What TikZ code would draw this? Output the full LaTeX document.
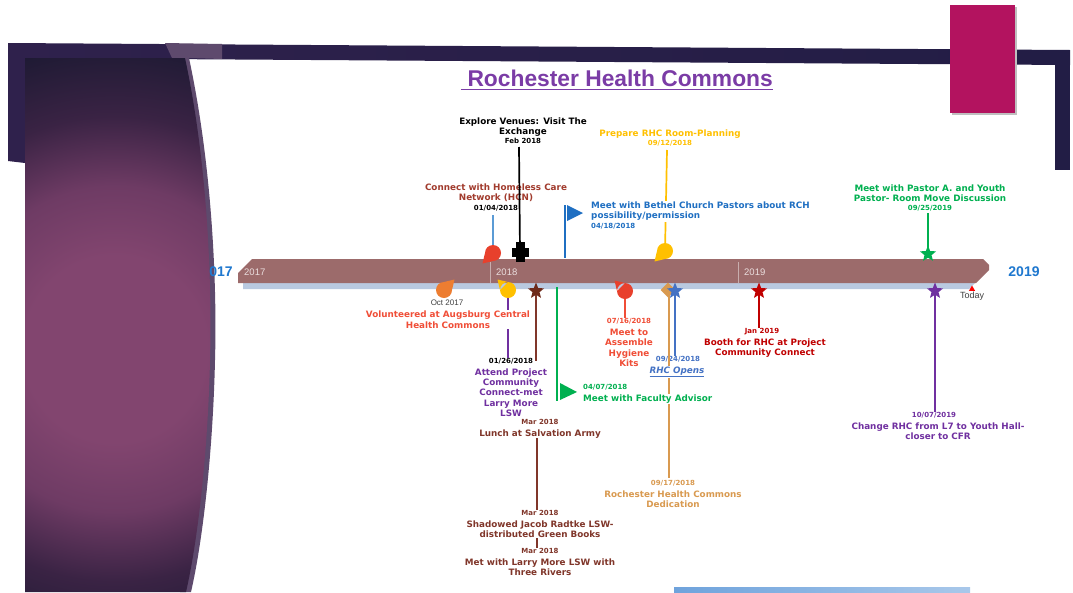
\documentclass[tikz,border=0pt]{standalone}
\usepackage{fontspec}
\setmainfont{DejaVu Sans}
\newfontfamily\arialf{Liberation Sans}
\usetikzlibrary{shapes.geometric,positioning}
\definecolor{SlideDark}{HTML}{221D45}
\definecolor{SlidePlum}{HTML}{2F214C}
\definecolor{PlumGlow}{HTML}{82456F}
\definecolor{PlumSoft}{HTML}{6E3B64}
\definecolor{PlumMid}{HTML}{3A2344}
\definecolor{PlumEdge}{HTML}{1B1932}
\definecolor{PlumSheen}{HTML}{5E4A6D}
\definecolor{Magenta}{HTML}{B3135F}
\definecolor{TitlePurple}{HTML}{7B3CA6}
\definecolor{BarBrown}{HTML}{9C6B6B}
\definecolor{BarShadow}{HTML}{B9C9E0}
\definecolor{YearText}{HTML}{EADDDD}
\definecolor{YearBlue}{HTML}{1F78CF}
\definecolor{HcnRed}{HTML}{A13B2D}
\definecolor{HcnBlue}{HTML}{5B9BD5}
\definecolor{LeafRed}{HTML}{E8402C}
\definecolor{BethelBlue}{HTML}{1F6FC2}
\definecolor{PrepGold}{HTML}{FFC000}
\definecolor{PastorGreen}{HTML}{00B050}
\definecolor{OctOrange}{HTML}{ED7D31}
\definecolor{VolRed}{HTML}{F04E37}
\definecolor{AttendPurple}{HTML}{7030A0}
\definecolor{LunchBrown}{HTML}{80362A}
\definecolor{StarBrown}{HTML}{6E2A1A}
\definecolor{DedTan}{HTML}{D99A50}
\definecolor{OpenBlue}{HTML}{4472C4}
\definecolor{BoothRed}{HTML}{C00000}
\definecolor{TodayGray}{HTML}{404040}
\definecolor{FootBlue}{HTML}{6FA3DC}
\pgfdeclareradialshading{plumglow}{\pgfpoint{0bp}{0bp}}{color(0bp)=(PlumGlow); color(8bp)=(PlumGlow); color(14bp)=(PlumSoft); color(20bp)=(PlumMid); color(27bp)=(PlumEdge); color(50bp)=(PlumEdge)}
\newcommand{\lblfont}{\fontsize{8.8}{10.4}\selectfont\bfseries}
\newcommand{\datefont}{\fontsize{7}{8}\selectfont\bfseries}

\begin{document}
\begin{tikzpicture}[x=1pt,y=-1pt,
  lbl/.style={font=\lblfont,align=center,inner sep=0pt},
  dt/.style={font=\datefont,inner sep=0pt},
  stem/.style={line width=1.7pt},
  mstar/.style={star,star points=5,star point ratio=2.3,minimum size=17pt,inner sep=0pt},
  yr/.style={font=\arialf\fontsize{9.5}{11}\selectfont,text=YearText,inner sep=0pt},
  bigyr/.style={font=\arialf\fontsize{14}{16}\selectfont\bfseries,text=YearBlue,inner sep=0pt}]
\useasboundingbox (0,0) rectangle (1073,592);
\fill[white] (0,0) rectangle (1073,592);
\shade[left color=SlidePlum,right color=SlideDark] (8,43) -- (1070,50) -- (1070,65) -- (8,58) -- cycle;
\fill[SlideDark] (1055,50) rectangle (1070,170);
\fill[SlidePlum] (8,43) -- (25,43) -- (25,163) -- (8,161) -- cycle;
\fill[PlumSheen] (165,43) -- (222,44) -- (222,59) -- (189,58) .. controls (213,170) and (217,290) .. (215,360) .. controls (213,450) and (203,540) .. (191,592) -- (180,592) -- (172,58) -- cycle;
\begin{scope}
\clip (25,58) -- (185,58) .. controls (208,165) and (212,285) .. (210,360) .. controls (208,450) and (198,540) .. (186,592) -- (25,592) -- cycle;
\shade[shading=plumglow] (-170,58) rectangle (400,640);
\end{scope}
\fill[black!25] (952,7) rectangle (1017,115);
\fill[Magenta] (950,5) rectangle (1015,113);
\shade[left color=FootBlue,right color=FootBlue!60] (674,587) rectangle (970,592);

\node[font=\arialf\fontsize{22.8}{26}\selectfont\bfseries,text=TitlePurple,inner sep=0pt,anchor=base] (title) at (617,86) {\ Rochester Health Commons};
\draw[TitlePurple,line width=1.6pt] ([yshift=-3.5pt]title.base west) -- ([yshift=-3.5pt]title.base east);

\fill[BarShadow] (243,283) -- (975,283) -- (969,289) -- (243,289) -- cycle;
\fill[BarBrown] (252,259) -- (983,259) -- (989,265) -- (989,270) -- (976,283) -- (238,283) -- (238,273) -- cycle;
\draw[BarBrown!55!white,line width=0.8pt] (490,262) -- (490,283) (738,262) -- (738,283);
\node[yr,anchor=west] (y17) at (244,272) {2017};
\node[yr,anchor=west] (y18) at (496,272) {2018};
\node[yr,anchor=west] (y19) at (744,272) {2019};
\node[bigyr] (lft) at (221,272) {017};
\node[bigyr] (rgt) at (1024,272) {2019};

\coordinate (mExplore) at (520,252);
\coordinate (mHcn) at (493,253);
\coordinate (mBethel) at (565,205);
\coordinate (mPrep) at (665,251);
\coordinate (mPastor) at (928,254);
\coordinate (mOct) at (444,290);
\coordinate (mAttend) at (508,290);
\coordinate (mLunch) at (536,291);
\coordinate (mFaculty) at (557,401);
\coordinate (mHyg) at (625,291);
\coordinate (mDed) at (668,290);
\coordinate (mOpen) at (675,291);
\coordinate (mBooth) at (759,291);
\coordinate (mChange) at (935,291);

\node[lbl,anchor=north] (tExplore) at (523,117.6) {Explore Venues: Visit The\\Exchange};
\node[dt,anchor=north] (dExplore) at (523,138.3) {Feb 2018};
\node[lbl,anchor=north,text=HcnRed] (tHcn) at (496,183.6) {Connect with Homeless Care\\Network (HCN)};
\node[dt,anchor=north] (dHcn) at (496,205.3) {01/04/2018};
\node[lbl,anchor=north,text=PrepGold] (tPrep) at (670,129.3) {Prepare RHC Room-Planning};
\node[dt,anchor=north,text=PrepGold] (dPrep) at (670,140) {09/12/2018};
\node[lbl,anchor=north,text=PastorGreen] (tPastor) at (930,184.3) {Meet with Pastor A. and Youth\\Pastor- Room Move Discussion};
\node[dt,anchor=north,text=PastorGreen] (dPastor) at (930,205) {09/25/2019};

\coordinate (sExplore) at (519,147);
\coordinate (sHcn) at (493,215);
\coordinate (sBethel) at (565,258);
\coordinate (sPrep) at (667,150);
\coordinate (sPastor) at (928,213);
\draw[stem] (sExplore) -- (mExplore);
\draw[stem,HcnBlue,line width=1.3pt] (sHcn) -- (mHcn);
\draw[stem,BethelBlue] (mBethel) -- (sBethel);
\draw[stem,PrepGold] (sPrep) -- (mPrep);
\draw[stem,PastorGreen] (sPastor) -- (mPastor);
\fill[BethelBlue] (mBethel) ++(2,0) -- ++(16,8) -- ++(-16,8) -- cycle;

\node[lbl,anchor=north west,align=left,text=BethelBlue,fill=white,inner sep=1pt] (tBethel) at (590,200.6) {Meet with Bethel Church Pastors about RCH\\possibility/permission};
\node[dt,anchor=north west,text=BethelBlue] (dBethel) at (591,222.6) {04/18/2018};

\node[font=\arialf\fontsize{8}{9}\selectfont,text=TodayGray,inner sep=0pt,anchor=north] (dOct) at (447,300) {Oct 2017};
\node[dt,anchor=north] (dAttend) at (511,358.3) {01/26/2018};
\node[lbl,anchor=north,text=AttendPurple] (tAttend) at (511,368.3) {Attend Project\\Community\\Connect-met\\Larry More\\LSW};
\node[dt,anchor=north,text=LunchBrown] (dLunch) at (540,419) {Mar 2018};
\node[lbl,anchor=north,text=LunchBrown] (tLunch) at (540,429.3) {Lunch at Salvation Army};
\node[dt,anchor=north,text=LunchBrown] (dShadow) at (540,510) {Mar 2018};
\node[lbl,anchor=north,text=LunchBrown] (tShadow) at (540,520.6) {Shadowed Jacob Radtke LSW-\\distributed Green Books};
\node[dt,anchor=north,text=LunchBrown] (dMet) at (540,548.3) {Mar 2018};
\node[lbl,anchor=north,text=LunchBrown] (tMet) at (540,558.6) {Met with Larry More LSW with\\Three Rivers};
\node[dt,anchor=north,text=VolRed] (dHyg) at (629,318.3) {07/16/2018};
\node[lbl,anchor=north,text=VolRed] (tHyg) at (629,328.6) {Meet to\\Assemble\\Hygiene\\Kits};
\node[dt,anchor=north,text=OpenBlue] (dOpen) at (678,356.3) {09/24/2018};
\node[dt,anchor=north,text=DedTan] (dDed) at (673,480) {09/17/2018};
\node[lbl,anchor=north,text=DedTan] (tDed) at (673,490.6) {Rochester Health Commons\\Dedication};
\node[dt,anchor=north,text=BoothRed] (dBooth) at (762,328) {Jan 2019};
\node[lbl,anchor=north,text=BoothRed] (tBooth) at (765,338.3) {Booth for RHC at Project\\Community Connect};
\node[dt,anchor=north,text=AttendPurple] (dChange) at (934,412.3) {10/07/2019};
\node[lbl,anchor=north,text=AttendPurple] (tChange) at (938,422.3) {Change RHC from L7 to Youth Hall-\\closer to CFR};

\coordinate (sLunch) at (536,361);
\coordinate (sFaculty) at (557,287);
\coordinate (sDed) at (669,478);
\draw[stem,AttendPurple] (mAttend) -- (mAttend |- dAttend.north);
\draw[stem,LunchBrown] (mLunch) -- (sLunch);
\draw[stem,LunchBrown] ([xshift=-3pt]tLunch.south) -- ([xshift=-3pt]dShadow.north);
\draw[stem,LunchBrown] ([xshift=-3pt]tShadow.south) -- ([xshift=-3pt]dMet.north);
\draw[stem,PastorGreen] (sFaculty) -- (mFaculty);
\fill[PastorGreen] (mFaculty) ++(3,-18) -- ++(17,9) -- ++(-17,8) -- cycle;
\draw[stem,VolRed] (mHyg) -- (mHyg |- dHyg.north);
\draw[stem,DedTan] (mDed) ++(1,0) -- (sDed);
\draw[stem,OpenBlue] (mOpen) -- (mOpen |- dOpen.north);
\draw[stem,BoothRed] (mBooth) -- (mBooth |- dBooth.north);
\draw[stem,AttendPurple] (mChange) -- (mChange |- dChange.north);

\node[lbl,anchor=north,text=VolRed,fill=white,inner sep=1pt] (tVol) at (448,310) {Volunteered at Augsburg Central\\Health Commons};
\node[dt,anchor=north west,text=PastorGreen] (dFaculty) at (583,384) {04/07/2018};
\node[lbl,anchor=north west,text=PastorGreen,fill=white,inner sep=1pt] (tFaculty) at (582,393.3) {Meet with Faculty Advisor};
\node[lbl,anchor=north,text=OpenBlue,fill=white,inner sep=1pt] (tOpen) at (677,365.6) {\underline{\itshape RHC Opens}};

\fill (mExplore) ++(-8,-4) rectangle ++(17,9);
\fill (mExplore) ++(-4,-10) rectangle ++(9,20);
\fill[LeafRed] (mHcn) circle (8pt) (mHcn) ++(-8,0) -- ++(-2.5,10.5) -- ++(10.5,-2.5) -- cycle;
\fill[PrepGold] (mPrep) circle (8pt) (mPrep) ++(-8,0) -- ++(-2.5,10.5) -- ++(10.5,-2.5) -- cycle;
\fill[OctOrange] (mOct) circle (8pt) (mOct) ++(8,0) -- ++(2.5,-10.5) -- ++(-10.5,2.5) -- cycle;
\fill[PrepGold] (mAttend) circle (8pt) (mAttend) ++(-8,0) -- ++(-2.5,-10.5) -- ++(10.5,2.5) -- cycle;
\fill[LeafRed] (mHyg) circle (8pt) (mHyg) ++(-8,0) -- ++(-2.5,-10.5) -- ++(10.5,2.5) -- cycle;
\node[mstar,fill=PastorGreen] at (mPastor) {};
\node[mstar,fill=StarBrown] at (mLunch) {};
\node[diamond,fill=DedTan,inner sep=0pt,minimum size=15pt] at (mDed) {};
\node[mstar,fill=OpenBlue] at (mOpen) {};
\node[mstar,fill=BoothRed] at (mBooth) {};
\node[mstar,fill=AttendPurple] at (mChange) {};
\node[regular polygon,regular polygon sides=3,fill=red,inner sep=0pt,minimum size=7pt] (mToday) at (972,289) {};
\node[font=\arialf\fontsize{9}{10}\selectfont,text=TodayGray,inner sep=0pt,below=1pt of mToday] (tToday) {Today};
\end{tikzpicture}
\end{document}
